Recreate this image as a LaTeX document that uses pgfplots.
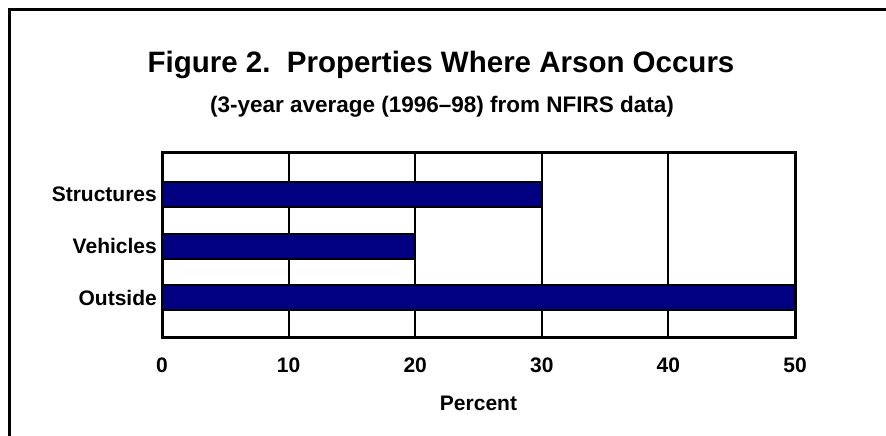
\documentclass[border=0pt]{standalone}
\usepackage{fontspec}
\setmainfont{Liberation Sans}
\usepackage{pgfplots}
\pgfplotsset{compat=1.18}
\definecolor{barnavy}{HTML}{000080}
\begin{document}
\begin{tikzpicture}
\useasboundingbox (0pt,0pt) rectangle (886pt,436pt);
\draw[line width=3pt] (9.5pt,0pt) -- (9.5pt,426pt) -- (886pt,426pt);
\node[anchor=base, font=\fontsize{29.5}{34}\selectfont\bfseries] at (441pt,363pt) {Figure 2.\ \ Properties Where Arson Occurs};
\node[anchor=base, font=\fontsize{22.5}{26}\selectfont\bfseries] at (442pt,323pt) {(3-year average (1996--98) from NFIRS data)};
\begin{axis}[
  at={(162pt,98pt)}, anchor=south west,
  width=633pt, height=185pt, scale only axis,
  xbar, bar width=25pt,
  xmin=0, xmax=50, ymin=-0.77, ymax=2.79,
  xtick={0,10,20,30,40,50},
  ytick={0,1,2}, yticklabels={Outside,Vehicles,Structures},
  major tick length=0pt,
  xmajorgrids, grid style={black, line width=2pt},
  axis line style={black, line width=3pt},
  tick label style={font=\fontsize{21}{25}\selectfont\bfseries},
  /pgf/number format/assume math mode=true,
  xticklabel style={anchor=base, yshift=-35pt, inner sep=0pt},
  yticklabel style={anchor=east, xshift=-5pt, inner sep=0pt},
  xlabel={Percent},
  xlabel style={font=\fontsize{21}{25}\selectfont\bfseries, at={(axis description cs:0.5,0)}, anchor=base, yshift=-73pt, inner sep=0pt},
]
\addplot[fill=barnavy, draw=black, line width=2pt] coordinates {(50,0) (20,1) (30,2)};
\end{axis}
\end{tikzpicture}
\end{document}
